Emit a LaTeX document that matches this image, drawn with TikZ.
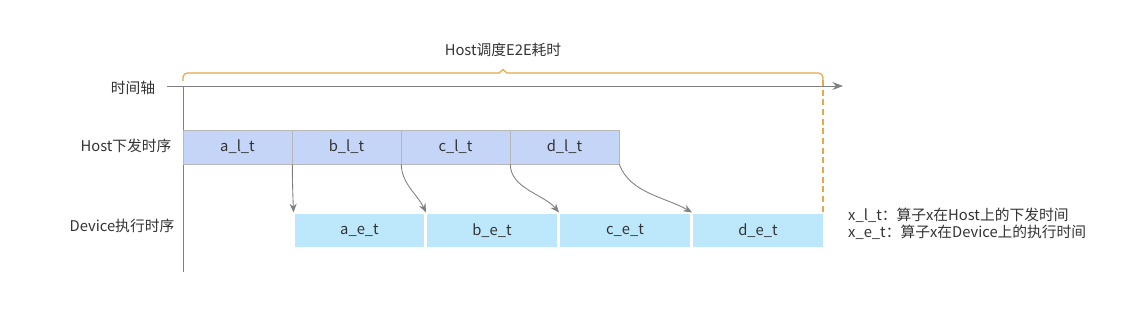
\documentclass[tikz,border=0pt]{standalone}
\usepackage{fontspec}
\setmainfont{Noto Sans CJK SC}
\usepackage{xcolor}
\usetikzlibrary{arrows.meta}
\definecolor{txtgray}{HTML}{333333}
\definecolor{linegray}{HTML}{808080}
\definecolor{hostblue}{HTML}{C5D5F8}
\definecolor{devblue}{HTML}{BDE8FB}
\definecolor{braceorange}{HTML}{E6A84A}
\tikzset{
  lbl/.style={text=txtgray, font=\fontsize{8.4pt}{10pt}\selectfont},
  hostbox/.style={lbl, draw=black!28, fill=hostblue, line width=0.4pt, minimum width=2.18cm, minimum height=0.68cm, inner sep=0pt},
  devbox/.style={lbl, draw=white, fill=devblue, line width=0.6pt, minimum width=2.62cm, minimum height=0.7cm, inner sep=0pt},
  conn/.style={draw=linegray, line width=0.5pt, -{Stealth[length=5pt,width=4pt]}},
  bracestyle/.style={braceorange, line width=0.7pt},
}

\begin{document}
\begin{tikzpicture}[x=0.02cm, y=-0.02cm]
	\useasboundingbox (0,0) rectangle (1142,313);
	\coordinate (tstart) at (167,86);
	\coordinate (torig) at (183,86);
	\coordinate (tend) at (843,86);
	\coordinate (tbottom) at (183,272);
	\draw[draw=linegray, line width=0.55pt, -{Stealth[length=6pt,width=4.5pt]}] (tstart) -- (tend);
	\draw[draw=linegray, line width=0.5pt] (torig) -- (tbottom);
	% brace over the whole span
	\draw[bracestyle, rounded corners=2.5pt] (183,81) -- (183,73) -- (499.5,73);
	\draw[bracestyle] (499,73) -- (503,69.5) -- (507,73);
	\draw[bracestyle, rounded corners=2.5pt] (506.5,73) -- (823,73) -- (823,81);
	\draw[bracestyle, dash pattern=on 3.5pt off 2pt] (823,80) -- (823,248);
	\node[lbl] (span) at (503,50) {Host调度E2E耗时};
	\node[lbl] (axis) at (133,88) {时间轴};
	\node[lbl] (hostrow) at (126,146) {Host下发时序};
	\node[lbl] (devrow) at (122,226) {Device执行时序};
	\node[hostbox] (al) at (237.5,147) {a\_l\_t};
	\node[hostbox] (bl) at (346.5,147) {b\_l\_t};
	\node[hostbox] (cl) at (455.5,147) {c\_l\_t};
	\node[hostbox] (dl) at (564.5,147) {d\_l\_t};
	\node[devbox] (ae) at (359.5,230.5) {a\_e\_t};
	\node[devbox] (be) at (492,230.5) {b\_e\_t};
	\node[devbox] (ce) at (625,230.5) {c\_e\_t};
	\node[devbox] (de) at (758,230.5) {d\_e\_t};
	\draw[conn] (al.south east) to[out=-90,in=92] (ae.north west);
	\draw[conn] (bl.south east) to[out=-90,in=115,looseness=0.9] (be.north west);
	\draw[conn] (cl.south east) to[out=-90,in=130,looseness=0.9] (ce.north west);
	\draw[conn] (dl.south east) to[out=-70,in=150,looseness=0.9] (de.north west);
	\node[lbl, anchor=west, align=left] (legend) at (842,224) {x\_l\_t：算子x在Host上的下发时间\\x\_e\_t：算子x在Device上的执行时间};
\end{tikzpicture}
\end{document}
